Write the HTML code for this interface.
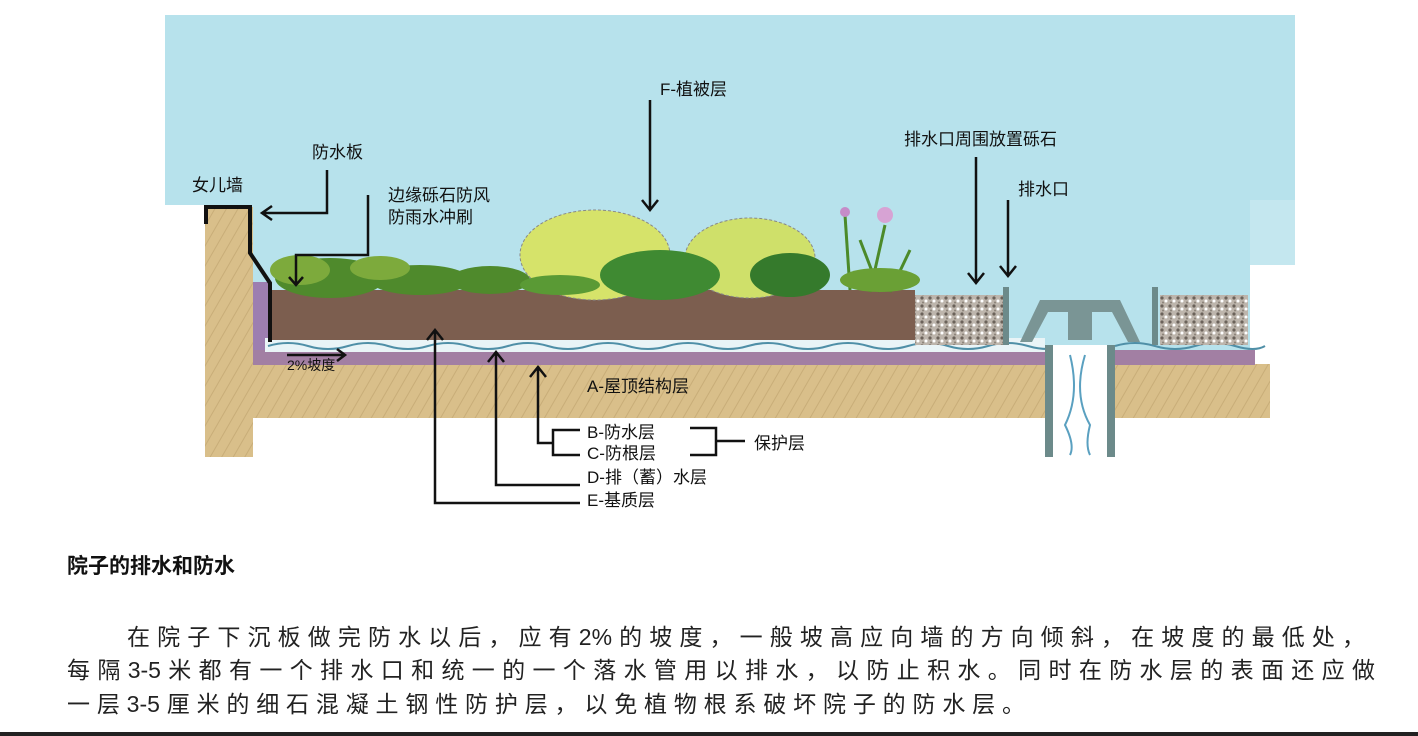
<!DOCTYPE html>
<html><head><meta charset="utf-8"><style>
body{margin:0;width:1418px;height:736px;background:#fff;overflow:hidden;position:relative;font-family:"Liberation Sans","Noto Sans CJK SC",sans-serif}
svg{position:absolute;left:0;top:0}
.t{position:absolute;color:#111}
.l{position:absolute;font-size:23px;color:#222;text-align:justify;text-align-last:justify;white-space:nowrap}
</style></head><body>
<svg width="1418" height="736" font-family="Liberation Sans, Noto Sans CJK SC, sans-serif">
<defs>
<pattern id="gr" width="8" height="8" patternUnits="userSpaceOnUse"><rect width="8" height="8" fill="#bdb5ac"/><circle cx="2" cy="2" r="1.6" fill="#6b625a"/><circle cx="6" cy="5" r="1.5" fill="#fff"/><circle cx="3" cy="6.5" r="1" fill="#8a8178"/></pattern>
<pattern id="tan" width="10" height="10" patternUnits="userSpaceOnUse" patternTransform="rotate(30)"><rect width="10" height="10" fill="#d9bf8a"/><line x1="0" y1="0" x2="0" y2="10" stroke="#c8ad78" stroke-width="2"/></pattern>
</defs>
<rect x="165" y="15" width="1130" height="190" fill="#b7e2ec"/>
<rect x="205" y="200" width="1045" height="150" fill="#b7e2ec"/>
<rect x="1250" y="200" width="45" height="65" fill="#c4e7ef"/>
<rect x="205" y="207" width="48" height="250" fill="url(#tan)"/>
<rect x="253" y="364" width="792" height="54" fill="url(#tan)"/>
<rect x="1115" y="364" width="155" height="54" fill="url(#tan)"/>
<rect x="253" y="350" width="792" height="15" fill="#a27fa3"/>
<rect x="1115" y="350" width="140" height="15" fill="#a27fa3"/>
<rect x="253" y="282" width="18" height="68" fill="#9d7eb0"/>
<rect x="265" y="338" width="780" height="14" fill="#e9f4f7"/>
<path d="M268 346 q20 -6 40 0 t40 0 t40 0 t40 0 t40 0 t40 0 t40 0 t40 0 t40 0 t40 0 t40 0 t40 0 t40 0 t40 0 t40 0 t40 0 t40 0 t40 0 t40 0 t40 0" stroke="#4f8fa7" stroke-width="2" fill="none"/>
<path d="M1115 346 q20 -6 40 0 t40 0 t40 0 t30 0" stroke="#4f8fa7" stroke-width="2" fill="none"/>
<rect x="270" y="290" width="645" height="50" fill="#7c5e4f"/>
<rect x="915" y="295" width="88" height="50" fill="url(#gr)"/>
<rect x="1160" y="295" width="88" height="50" fill="url(#gr)"/>
<rect x="1045" y="345" width="70" height="112" fill="#fff"/>
<rect x="1045" y="345" width="8" height="112" fill="#6c8a8a"/>
<rect x="1107" y="345" width="8" height="112" fill="#6c8a8a"/>
<path d="M1070 355 q10 40 -5 70 q10 20 5 30 M1085 355 q-12 40 5 70 q-5 20 0 30" stroke="#5aa0c0" stroke-width="2" fill="none"/>
<rect x="1003" y="287" width="6" height="58" fill="#6c8a8a"/>
<rect x="1152" y="287" width="6" height="58" fill="#6c8a8a"/>
<path d="M1020 342 L1040 300 L1120 300 L1140 342 L1128 342 L1112 312 L1092 312 L1092 340 L1068 340 L1068 312 L1048 312 L1032 342Z" fill="#7a9595"/>
<path d="M206 224 V207 H250 V253 L270 283 V342" stroke="#111" stroke-width="4" fill="none"/>
<g fill="#4f8a2c">
<ellipse cx="330" cy="278" rx="55" ry="20"/><ellipse cx="420" cy="280" rx="50" ry="15"/><ellipse cx="490" cy="280" rx="40" ry="14"/>
</g>
<g fill="#7daa3c"><ellipse cx="300" cy="270" rx="30" ry="15"/><ellipse cx="380" cy="268" rx="30" ry="12"/></g>
<ellipse cx="595" cy="255" rx="75" ry="45" fill="#d6e36a" stroke="#888" stroke-dasharray="3 2"/>
<ellipse cx="750" cy="258" rx="65" ry="40" fill="#cfe06a" stroke="#888" stroke-dasharray="3 2"/>
<ellipse cx="660" cy="275" rx="60" ry="25" fill="#3f8a32"/>
<ellipse cx="790" cy="275" rx="40" ry="22" fill="#357a2c"/>
<ellipse cx="560" cy="285" rx="40" ry="10" fill="#5a9a35"/>
<g stroke="#4c8a2a" stroke-width="3"><line x1="850" y1="290" x2="845" y2="215"/><line x1="870" y1="292" x2="885" y2="225"/><line x1="890" y1="292" x2="910" y2="250"/><line x1="880" y1="292" x2="860" y2="240"/></g>
<ellipse cx="880" cy="280" rx="40" ry="12" fill="#6aa035"/>
<circle cx="845" cy="212" r="5" fill="#c58cc8"/><circle cx="885" cy="215" r="8" fill="#d7a3d4"/>
<g stroke="#111" stroke-width="2.5" fill="none">
<path d="M327 170 V213 H262 M272 206 L262 213 L272 220"/>
<path d="M368 195 V255 H296 V285 M289 277 L296 285 L303 277"/>
<path d="M650 100 V210 M642 200 L650 210 L658 200"/>
<path d="M976 157 V283 M968 273 L976 283 L984 273"/>
<path d="M1008 200 V276 M1000 266 L1008 276 L1016 266"/>
<path d="M287 355 H345 M337 349 L345 355 L337 361"/>
<path d="M435 330 V503 H580 M427 340 L435 330 L443 340"/>
<path d="M496 352 V485 H580 M488 362 L496 352 L504 362"/>
<path d="M538 367 V443 H553 M530 377 L538 367 L546 377"/>
<path d="M580 430 H553 V455 H580"/>
<path d="M690 428 H716 V455 H690 M716 441 H745"/>
</g>
<g font-size="17" fill="#111">
<text x="660" y="95">F-植被层</text>
<text x="312" y="158">防水板</text>
<text x="192" y="191">女儿墙</text>
<text x="388" y="201">边缘砾石防风</text>
<text x="388" y="223">防雨水冲刷</text>
<text x="904" y="145">排水口周围放置砾石</text>
<text x="1018" y="195">排水口</text>
<text x="587" y="392">A-屋顶结构层</text>
<text x="587" y="438">B-防水层</text>
<text x="587" y="459">C-防根层</text>
<text x="754" y="449">保护层</text>
<text x="587" y="483">D-排（蓄）水层</text>
<text x="587" y="506">E-基质层</text>
<text x="287" y="370" font-size="14">2%坡度</text>
</g>
<rect x="0" y="732" width="1418" height="4" fill="#222"/>
</svg>
<div class="t" style="left:67px;top:550px;font-size:21px;font-weight:bold">院子的排水和防水</div>
<div class="l" style="left:127px;top:618px;width:1238px">在院子下沉板做完防水以后，应有2%的坡度，一般坡高应向墙的方向倾斜，在坡度的最低处，</div>
<div class="l" style="left:67px;top:651px;width:1308px">每隔3-5米都有一个排水口和统一的一个落水管用以排水，以防止积水。同时在防水层的表面还应做</div>
<div class="l" style="left:67px;top:685px;width:958px">一层3-5厘米的细石混凝土钢性防护层，以免植物根系破坏院子的防水层。</div>
</body></html>
